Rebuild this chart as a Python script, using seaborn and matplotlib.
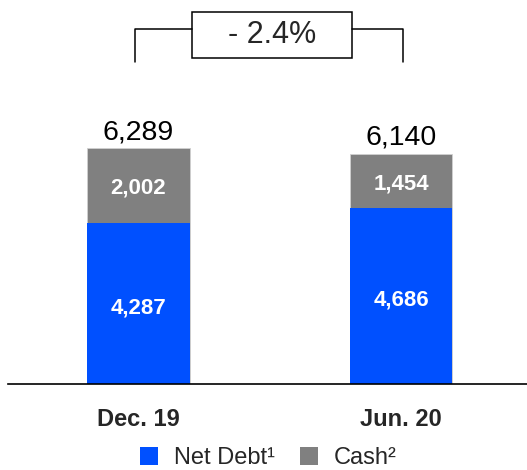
import matplotlib
matplotlib.use('Agg')
import matplotlib.pyplot as plt
import seaborn as sns
import pandas as pd
from matplotlib.patches import Patch, Rectangle

# values
periods = ['Dec. 19', 'Jun. 20']
net_debt = [4287, 4686]
cash = [2002, 1454]
change_label = '- 2.4%'
legend_labels = ['Net Debt\u00b9', 'Cash\u00b2']

df = pd.DataFrame({'period': periods, 'net_debt': net_debt, 'cash': cash})
df['total'] = df['net_debt'] + df['cash']

blue = '#0050FF'
grey = '#808080'

sns.set_style('white')
plt.rcParams['font.family'] = ['Liberation Sans', 'DejaVu Sans']

fig = plt.figure(figsize=(5.27, 4.7), dpi=100)
ax = fig.add_axes([8 / 527, 86 / 470, 519 / 527, 384 / 470])

# stacked bars: total (grey) behind, net debt (blue) in front
sns.barplot(data=df, x='period', y='total', color=grey, width=0.392,
            saturation=1, edgecolor='#d0d0d0', linewidth=0.6, ax=ax)
sns.barplot(data=df, x='period', y='net_debt', color=blue, width=0.392,
            saturation=1, linewidth=0, ax=ax)

ax.set_ylim(0, 10240)
ax.set_xlim(-0.497, 1.48)

# totals on top
ax.bar_label(ax.containers[0], labels=[f'{v:,}' for v in df['total']],
             padding=2, fontsize=20.5, color='black')

# segment labels
for i, row in df.iterrows():
    ax.annotate(f"{row['net_debt']:,}", (i, row['net_debt'] / 2),
                xytext=(0, -3), textcoords='offset points',
                ha='center', va='center', color='white',
                fontweight='bold', fontsize=16)
    ax.annotate(f"{row['cash']:,}", (i, row['net_debt'] + row['cash'] / 2),
                xytext=(0, -2), textcoords='offset points',
                ha='center', va='center', color='white',
                fontweight='bold', fontsize=16)

sns.despine(ax=ax, left=True, top=True, right=True)
ax.spines['bottom'].set_color('black')
ax.spines['bottom'].set_linewidth(1.2)
ax.set_yticks([])
ax.set_xlabel('')
ax.set_ylabel('')
ax.tick_params(axis='x', length=0, pad=17)
plt.setp(ax.get_xticklabels(), fontweight='bold', fontsize=17)

# change bracket
lkw = dict(color='black', lw=1.1, transform=ax.transAxes, clip_on=False)
ax.plot([0.2447, 0.2447, 0.3545], [0.8385, 0.9245, 0.9245], **lkw)
ax.plot([0.6628, 0.761, 0.761], [0.9245, 0.9245, 0.8385], **lkw)
ax.add_patch(Rectangle((0.3545, 0.849), 0.3083, 0.12, transform=ax.transAxes,
                       facecolor='white', edgecolor='black', lw=1.1,
                       clip_on=False))
ax.text(0.5087, 0.909, change_label, transform=ax.transAxes, ha='center',
        va='center', fontsize=22)

handles = [Patch(facecolor=blue, edgecolor='none'),
           Patch(facecolor=grey, edgecolor='none')]
fig.legend(handles, legend_labels, loc='center', ncol=2,
           bbox_to_anchor=(0.5095, 0.025), frameon=False, fontsize=17,
           handlelength=0.76, handleheight=0.76, handletextpad=0.68,
           columnspacing=1.05, borderpad=0)

fig.savefig('out.png', dpi=100)
